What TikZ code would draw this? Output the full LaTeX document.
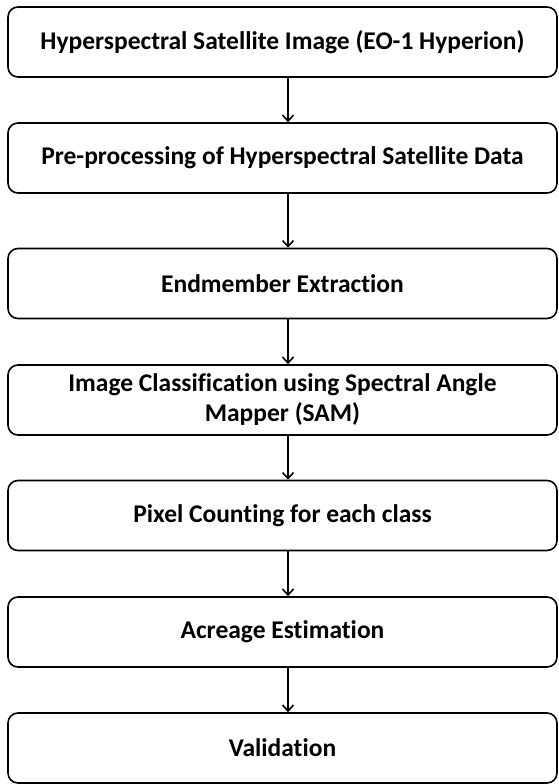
\documentclass[tikz,border=0pt]{standalone}
\usepackage{fontspec}
\setmainfont{Carlito}[Ligatures=NoCommon]
\usetikzlibrary{arrows.meta}
\tikzset{
  stepbox/.style={draw=black, line width=1.6pt, rounded corners=10pt,
    minimum width=549pt, minimum height=70pt, inner sep=0pt,
    align=center, font=\fontsize{25.5}{30}\selectfont\bfseries, text=black},
  flow/.style={draw=black, line width=1.6pt, -{Straight Barb[length=6pt,width=11pt,line width=1.6pt]}}
}
\begin{document}
\begin{tikzpicture}[x=1pt,y=-1pt]
  \useasboundingbox (0,0) rectangle (558,784);
  \node[stepbox] (b1) at (282.5,42)  {Hyperspectral Satellite Image (EO-1 Hyperion)};
  \node[stepbox] (b2) at (282.5,158) {Pre-processing of Hyperspectral Satellite Data};
  \node[stepbox] (b3) at (282.5,283.5) {Endmember Extraction};
  \node[stepbox] (b4) at (282.5,400) {Image Classification using Spectral Angle\\Mapper (SAM)};
  \node[stepbox] (b5) at (282.5,515.5) {Pixel Counting for each class};
  \node[stepbox] (b6) at (282.5,632) {Acreage Estimation};
  \node[stepbox] (b7) at (282.5,748) {Validation};
  \coordinate (ax) at (288,0);
  \draw[flow] (b1.south -| ax) -- (b2.north -| ax);
  \draw[flow] (b2.south -| ax) -- (b3.north -| ax);
  \draw[flow] (b3.south -| ax) -- (b4.north -| ax);
  \draw[flow] (b4.south -| ax) -- (b5.north -| ax);
  \draw[flow] (b5.south -| ax) -- (b6.north -| ax);
  \draw[flow] (b6.south -| ax) -- (b7.north -| ax);
\end{tikzpicture}
\end{document}
